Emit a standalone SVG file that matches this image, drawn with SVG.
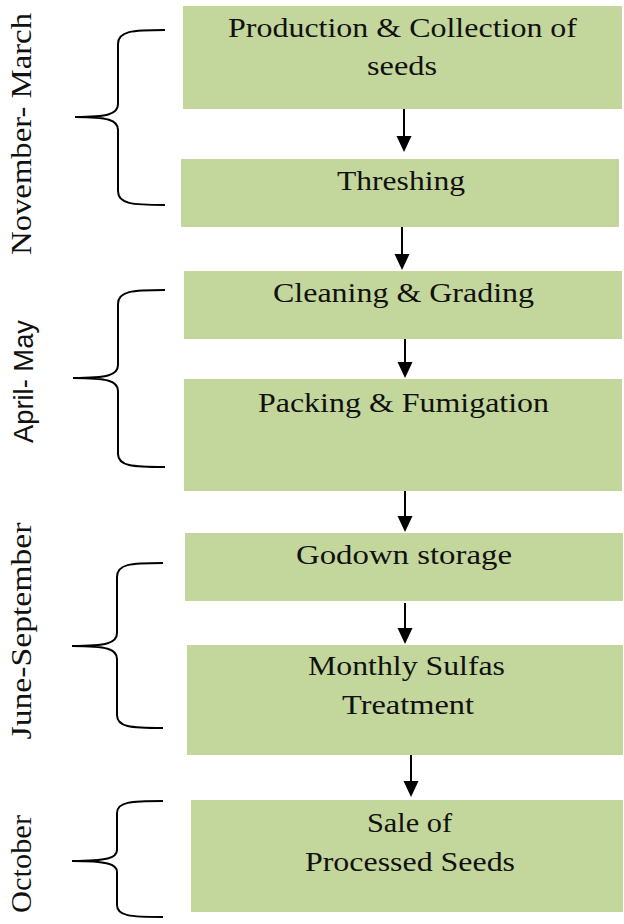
<svg xmlns="http://www.w3.org/2000/svg" width="624" height="924" viewBox="0 0 624 924">
  <style>
    .box { fill: #C3D69B; }
    .lbl { font-family: "Liberation Serif", "DejaVu Serif", serif; font-size: 28px; fill: #111; text-anchor: middle; }
    .side { font-family: "Liberation Serif", "DejaVu Serif", serif; font-size: 29px; fill: #111; text-anchor: middle; }
    .sideSans { font-family: "Liberation Sans", Arial, sans-serif; font-size: 27.5px; fill: #111; text-anchor: middle; }
    .brace { fill: none; stroke: #000; stroke-width: 2; }
    .conn line { stroke: #000; stroke-width: 2; }
    .conn polygon { fill: #000; }
  </style>

  <rect width="624" height="924" fill="#fff"/>

  <!-- process steps -->
  <g id="n-production">
    <rect class="box" x="183" y="6" width="439" height="103"/>
    <text class="lbl" x="402.5" y="37" textLength="349" lengthAdjust="spacingAndGlyphs">Production &amp; Collection of</text>
    <text class="lbl" x="402" y="75" textLength="70" lengthAdjust="spacingAndGlyphs">seeds</text>
  </g>
  <g id="n-threshing">
    <rect class="box" x="181" y="159" width="438" height="68"/>
    <text class="lbl" x="401" y="190" textLength="128" lengthAdjust="spacingAndGlyphs">Threshing</text>
  </g>
  <g id="n-cleaning">
    <rect class="box" x="184" y="271" width="438" height="68"/>
    <text class="lbl" x="403.5" y="302" textLength="261" lengthAdjust="spacingAndGlyphs">Cleaning &amp; Grading</text>
  </g>
  <g id="n-packing">
    <rect class="box" x="184" y="379" width="438" height="112"/>
    <text class="lbl" x="403.5" y="412" textLength="291" lengthAdjust="spacingAndGlyphs">Packing &amp; Fumigation</text>
  </g>
  <g id="n-godown">
    <rect class="box" x="185" y="533" width="438" height="68"/>
    <text class="lbl" x="404" y="564" textLength="216" lengthAdjust="spacingAndGlyphs">Godown storage</text>
  </g>
  <g id="n-sulfas">
    <rect class="box" x="187" y="645" width="436" height="110"/>
    <text class="lbl" x="406.5" y="675" textLength="197" lengthAdjust="spacingAndGlyphs">Monthly Sulfas</text>
    <text class="lbl" x="408" y="714" textLength="132" lengthAdjust="spacingAndGlyphs">Treatment</text>
  </g>
  <g id="n-sale">
    <rect class="box" x="191" y="800" width="432" height="112"/>
    <text class="lbl" x="409.5" y="832" textLength="85" lengthAdjust="spacingAndGlyphs">Sale of</text>
    <text class="lbl" x="410" y="871" textLength="210" lengthAdjust="spacingAndGlyphs">Processed Seeds</text>
  </g>

  <!-- arrows between steps -->
  <g id="connectors" class="conn">
    <line x1="404" y1="109" x2="404" y2="138"/>
    <polygon points="396.5,136 411.5,136 404,152"/>
    <line x1="402" y1="227" x2="402" y2="256"/>
    <polygon points="394.5,254 409.5,254 402,270"/>
    <line x1="405" y1="339" x2="405" y2="364"/>
    <polygon points="397.5,362 412.5,362 405,378"/>
    <line x1="405" y1="491" x2="405" y2="518"/>
    <polygon points="397.5,516 412.5,516 405,532"/>
    <line x1="405" y1="603" x2="405" y2="630"/>
    <polygon points="397.5,628 412.5,628 405,644"/>
    <line x1="411" y1="755" x2="411" y2="783"/>
    <polygon points="403.5,781 418.5,781 411,797"/>
  </g>

  <!-- period braces -->
  <g id="brace-nov-mar">
    <path class="brace" d="M165,30 C132,30 118,31 118,44 L118,104 C118,114 108,117 75,117 C108,117 118,120 118,130 L118,191 C118,204 132,205 165,205"/>
    <text class="side" transform="translate(31,134) rotate(-90)" textLength="242" lengthAdjust="spacingAndGlyphs">November- March</text>
  </g>
  <g id="brace-apr-may">
    <path class="brace" d="M165,290 C132,290 118,291 118,304 L118,365 C118,375 108,378 73,378 C108,378 118,381 118,391 L118,454 C118,466 132,467 165,467"/>
    <text class="sideSans" transform="translate(33,381.5) rotate(-90)" textLength="123" lengthAdjust="spacingAndGlyphs">April- May</text>
  </g>
  <g id="brace-jun-sep">
    <path class="brace" d="M163,563 C130,563 117,564 117,577 L117,633 C117,643 107,646 72,646 C107,646 117,649 117,659 L117,715 C117,727 130,728 163,728"/>
    <text class="side" transform="translate(31,631) rotate(-90)" textLength="217" lengthAdjust="spacingAndGlyphs">June-September</text>
  </g>
  <g id="brace-oct">
    <path class="brace" d="M163,801 C130,801 117,802 117,813 L117,850 C117,858 107,861 72,861 C107,861 117,864 117,872 L117,905 C117,916 130,917 163,917"/>
    <text class="side" transform="translate(31,864) rotate(-90)" textLength="98" lengthAdjust="spacingAndGlyphs">October</text>
  </g>
</svg>
